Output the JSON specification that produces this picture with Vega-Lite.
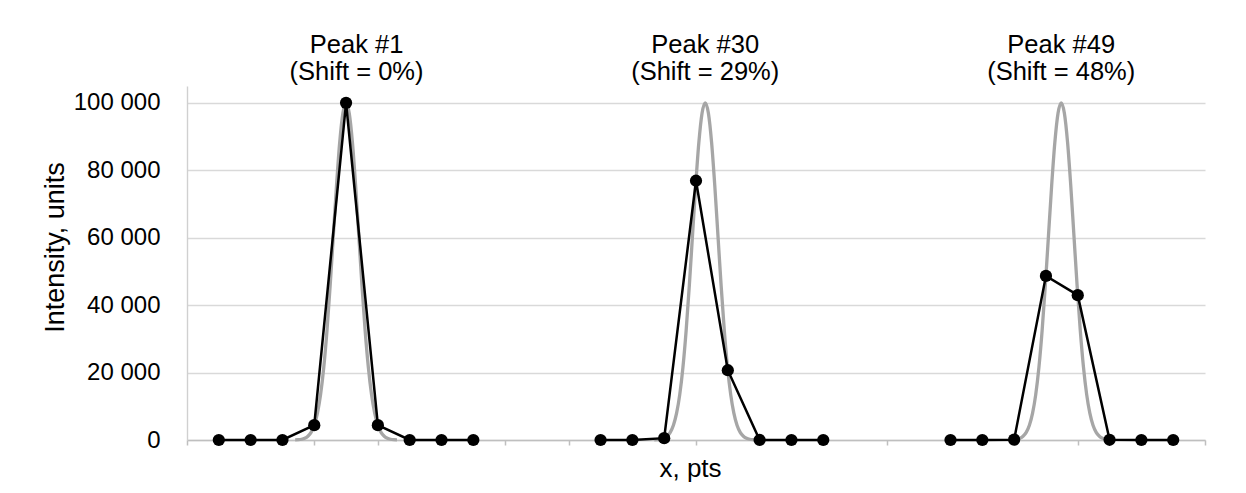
{
  "$schema": "https://vega.github.io/schema/vega-lite/v6.json",
  "width": 1018,
  "height": 354,
  "autosize": "none",
  "padding": {"left": 187, "top": 86, "right": 41, "bottom": 53},
  "background": "white",
  "config": {"view": {"stroke": null}, "font": "Liberation Sans"},
  "datasets": {
    "samples": [
      {"peak": "1", "x": 1, "y": 0}, {"peak": "1", "x": 2, "y": 0}, {"peak": "1", "x": 3, "y": 0},
      {"peak": "1", "x": 4, "y": 4394}, {"peak": "1", "x": 5, "y": 100000}, {"peak": "1", "x": 6, "y": 4394},
      {"peak": "1", "x": 7, "y": 0}, {"peak": "1", "x": 8, "y": 0}, {"peak": "1", "x": 9, "y": 0},
      {"peak": "30", "x": 13, "y": 0}, {"peak": "30", "x": 14, "y": 0}, {"peak": "30", "x": 15, "y": 550},
      {"peak": "30", "x": 16, "y": 76900}, {"peak": "30", "x": 17, "y": 20700}, {"peak": "30", "x": 18, "y": 11},
      {"peak": "30", "x": 19, "y": 0}, {"peak": "30", "x": 20, "y": 0},
      {"peak": "49", "x": 24, "y": 0}, {"peak": "49", "x": 25, "y": 0}, {"peak": "49", "x": 26, "y": 106},
      {"peak": "49", "x": 27, "y": 48680}, {"peak": "49", "x": 28, "y": 42960}, {"peak": "49", "x": 29, "y": 73},
      {"peak": "49", "x": 30, "y": 0}, {"peak": "49", "x": 31, "y": 0}
    ],
    "model": [
      {"peak": "1", "x": 3.4, "y": 34}, {"peak": "1", "x": 3.5, "y": 88}, {"peak": "1", "x": 3.6, "y": 219},
      {"peak": "1", "x": 3.7, "y": 509}, {"peak": "1", "x": 3.8, "y": 1111}, {"peak": "1", "x": 3.9, "y": 2280},
      {"peak": "1", "x": 4.0, "y": 4394}, {"peak": "1", "x": 4.1, "y": 7956}, {"peak": "1", "x": 4.2, "y": 13534},
      {"peak": "1", "x": 4.3, "y": 21627}, {"peak": "1", "x": 4.4, "y": 32465}, {"peak": "1", "x": 4.5, "y": 45783},
      {"peak": "1", "x": 4.6, "y": 60653}, {"peak": "1", "x": 4.7, "y": 75484}, {"peak": "1", "x": 4.8, "y": 88250},
      {"peak": "1", "x": 4.9, "y": 96923}, {"peak": "1", "x": 5.0, "y": 100000}, {"peak": "1", "x": 5.1, "y": 96923},
      {"peak": "1", "x": 5.2, "y": 88250}, {"peak": "1", "x": 5.3, "y": 75484}, {"peak": "1", "x": 5.4, "y": 60653},
      {"peak": "1", "x": 5.5, "y": 45783}, {"peak": "1", "x": 5.6, "y": 32465}, {"peak": "1", "x": 5.7, "y": 21627},
      {"peak": "1", "x": 5.8, "y": 13534}, {"peak": "1", "x": 5.9, "y": 7956}, {"peak": "1", "x": 6.0, "y": 4394},
      {"peak": "1", "x": 6.1, "y": 2280}, {"peak": "1", "x": 6.2, "y": 1111}, {"peak": "1", "x": 6.3, "y": 509},
      {"peak": "1", "x": 6.4, "y": 219}, {"peak": "1", "x": 6.5, "y": 88}, {"peak": "1", "x": 6.6, "y": 34},
      {"peak": "30", "x": 14.69, "y": 34}, {"peak": "30", "x": 14.79, "y": 88}, {"peak": "30", "x": 14.89, "y": 219},
      {"peak": "30", "x": 14.99, "y": 509}, {"peak": "30", "x": 15.09, "y": 1111}, {"peak": "30", "x": 15.19, "y": 2280},
      {"peak": "30", "x": 15.29, "y": 4394}, {"peak": "30", "x": 15.39, "y": 7956}, {"peak": "30", "x": 15.49, "y": 13534},
      {"peak": "30", "x": 15.59, "y": 21627}, {"peak": "30", "x": 15.69, "y": 32465}, {"peak": "30", "x": 15.79, "y": 45783},
      {"peak": "30", "x": 15.89, "y": 60653}, {"peak": "30", "x": 15.99, "y": 75484}, {"peak": "30", "x": 16.09, "y": 88250},
      {"peak": "30", "x": 16.19, "y": 96923}, {"peak": "30", "x": 16.29, "y": 100000}, {"peak": "30", "x": 16.39, "y": 96923},
      {"peak": "30", "x": 16.49, "y": 88250}, {"peak": "30", "x": 16.59, "y": 75484}, {"peak": "30", "x": 16.69, "y": 60653},
      {"peak": "30", "x": 16.79, "y": 45783}, {"peak": "30", "x": 16.89, "y": 32465}, {"peak": "30", "x": 16.99, "y": 21627},
      {"peak": "30", "x": 17.09, "y": 13534}, {"peak": "30", "x": 17.19, "y": 7956}, {"peak": "30", "x": 17.29, "y": 4394},
      {"peak": "30", "x": 17.39, "y": 2280}, {"peak": "30", "x": 17.49, "y": 1111}, {"peak": "30", "x": 17.59, "y": 509},
      {"peak": "30", "x": 17.69, "y": 219}, {"peak": "30", "x": 17.79, "y": 88}, {"peak": "30", "x": 17.89, "y": 34},
      {"peak": "49", "x": 25.88, "y": 34}, {"peak": "49", "x": 25.98, "y": 88}, {"peak": "49", "x": 26.08, "y": 219},
      {"peak": "49", "x": 26.18, "y": 509}, {"peak": "49", "x": 26.28, "y": 1111}, {"peak": "49", "x": 26.38, "y": 2280},
      {"peak": "49", "x": 26.48, "y": 4394}, {"peak": "49", "x": 26.58, "y": 7956}, {"peak": "49", "x": 26.68, "y": 13534},
      {"peak": "49", "x": 26.78, "y": 21627}, {"peak": "49", "x": 26.88, "y": 32465}, {"peak": "49", "x": 26.98, "y": 45783},
      {"peak": "49", "x": 27.08, "y": 60653}, {"peak": "49", "x": 27.18, "y": 75484}, {"peak": "49", "x": 27.28, "y": 88250},
      {"peak": "49", "x": 27.38, "y": 96923}, {"peak": "49", "x": 27.48, "y": 100000}, {"peak": "49", "x": 27.58, "y": 96923},
      {"peak": "49", "x": 27.68, "y": 88250}, {"peak": "49", "x": 27.78, "y": 75484}, {"peak": "49", "x": 27.88, "y": 60653},
      {"peak": "49", "x": 27.98, "y": 45783}, {"peak": "49", "x": 28.08, "y": 32465}, {"peak": "49", "x": 28.18, "y": 21627},
      {"peak": "49", "x": 28.28, "y": 13534}, {"peak": "49", "x": 28.38, "y": 7956}, {"peak": "49", "x": 28.48, "y": 4394},
      {"peak": "49", "x": 28.58, "y": 2280}, {"peak": "49", "x": 28.68, "y": 1111}, {"peak": "49", "x": 28.78, "y": 509},
      {"peak": "49", "x": 28.88, "y": 219}, {"peak": "49", "x": 28.98, "y": 88}, {"peak": "49", "x": 29.08, "y": 34}
    ],
    "labels": [
      {"x": 5.33, "y": 100000, "label": ["Peak #1", "(Shift = 0%)"]},
      {"x": 16.29, "y": 100000, "label": ["Peak #30", "(Shift = 29%)"]},
      {"x": 27.48, "y": 100000, "label": ["Peak #49", "(Shift = 48%)"]}
    ]
  },
  "layer": [
    {
      "data": {"name": "model"},
      "mark": {"type": "line", "color": "#a6a6a6", "strokeWidth": 3.3, "interpolate": "monotone"},
      "encoding": {
        "x": {
          "field": "x", "type": "quantitative",
          "scale": {"domain": [0, 32], "nice": false, "zero": false},
          "axis": {
            "values": [0,1,2,3,4,5,6,7,8,9,10,11,12,13,14,15,16,17,18,19,20,21,22,23,24,25,26,27,28,29,30,31,32],
            "labels": false, "grid": false,
            "tickSize": 5, "tickColor": "#bfbfbf", "tickWidth": 1.5,
            "domainColor": "#bfbfbf", "domainWidth": 1.5,
            "title": "x, pts", "titleFontSize": 26, "titleFontWeight": "normal", "titleColor": "black",
            "titlePadding": 10, "titleX": 503
          }
        },
        "y": {
          "field": "y", "type": "quantitative",
          "scale": {"domain": [0, 105000], "nice": false},
          "axis": {
            "values": [0, 20000, 40000, 60000, 80000, 100000],
            "labelExpr": "datum.value == 0 ? '0' : format(datum.value / 1000, 'd') + ' 000'",
            "labelFontSize": 24, "labelColor": "black", "labelPadding": 27,
            "ticks": false,
            "grid": true, "gridColor": "#d9d9d9", "gridWidth": 1.4,
            "domainColor": "#d0d0d0", "domainWidth": 1.4,
            "title": "Intensity, units", "titleFontSize": 27, "titleFontWeight": "normal", "titleColor": "black",
            "titlePadding": 4, "titleY": 161
          }
        },
        "detail": {"field": "peak"}
      }
    },
    {
      "data": {"name": "samples"},
      "mark": {"type": "line", "color": "black", "strokeWidth": 2.5, "point": {"filled": true, "size": 150, "color": "black", "opacity": 1}},
      "encoding": {
        "x": {"field": "x", "type": "quantitative"},
        "y": {"field": "y", "type": "quantitative"},
        "detail": {"field": "peak"}
      }
    },
    {
      "data": {"name": "labels"},
      "mark": {"type": "text", "fontSize": 25.5, "lineHeight": 27, "baseline": "alphabetic", "align": "center", "dy": -50, "color": "black"},
      "encoding": {
        "x": {"field": "x", "type": "quantitative"},
        "y": {"field": "y", "type": "quantitative"},
        "text": {"field": "label"}
      }
    }
  ]
}
